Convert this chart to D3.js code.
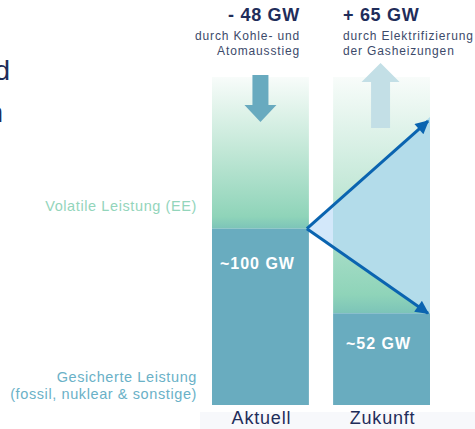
<!DOCTYPE html>
<html><head><meta charset="utf-8">
<script src="https://cdn.jsdelivr.net/npm/d3@7"></script>
<style>
html,body{margin:0;padding:0;background:#fff;overflow:hidden}
svg{display:block;font-family:"Liberation Sans",Arial,sans-serif}
</style></head>
<body>
<script>
// ---- data ----
const categories = ["Aktuell", "Zukunft"];
const gesichert = [100, 52];          // GW secured capacity
const barTotal = 186;                 // visual top of bars (GW scale)
const valueLabels = ["~100 GW", "~52 GW"];
const arrowTargets = [161, 52];       // up (demand) and down (secured) targets in Zukunft
const headlines = ["- 48 GW", "+ 65 GW"];
const subLines = [["durch Kohle- und", "Atomausstieg"], ["durch Elektrifizierung", "der Gasheizungen"]];
const sideLabels = ["Volatile Leistung (EE)", "Gesicherte Leistung", "(fossil, nuklear & sonstige)"];

const W = 475, H = 429;
const svg = d3.select("body").append("svg").attr("width", W).attr("height", H);
const defs = svg.append("defs");

const x = d3.scaleBand().domain(categories).range([212, 430]).paddingInner(0.2).paddingOuter(0);
const y = d3.scaleLinear().domain([0, barTotal]).range([405, 77]);

const navy = "#1f2d5a", teal = "#69acbf", blueLine = "#0a64b0";

// bottom faint band
svg.append("rect").attr("x", 200).attr("y", 412).attr("width", 275).attr("height", 17).attr("fill", "#f7f8fb");

// bars
categories.forEach((c, i) => {
  const gid = "grad" + i;
  const gg = defs.append("linearGradient").attr("id", gid).attr("gradientUnits", "userSpaceOnUse")
    .attr("x1", 0).attr("y1", y(barTotal)).attr("x2", 0).attr("y2", y(gesichert[i]));
  gg.append("stop").attr("offset", "0%").attr("stop-color", "#f8fcfa");
  gg.append("stop").attr("offset", "45%").attr("stop-color", "#c6e9d9");
  gg.append("stop").attr("offset", "92%").attr("stop-color", "#8fd4b9");
  gg.append("stop").attr("offset", "100%").attr("stop-color", "#7cc4b8");
  svg.append("rect").attr("x", x(c)).attr("y", y(barTotal)).attr("width", x.bandwidth())
    .attr("height", y(gesichert[i]) - y(barTotal)).attr("fill", `url(#${gid})`);
  svg.append("rect").attr("x", x(c)).attr("y", y(gesichert[i])).attr("width", x.bandwidth())
    .attr("height", y(0) - y(gesichert[i])).attr("fill", teal);
});

// triangle fill
const vx = x("Aktuell") + x.bandwidth() - 2, vy = y(gesichert[0]);
const tx = x("Zukunft") + x.bandwidth();
const tri = [[vx, vy], [tx, y(arrowTargets[0]) - 4], [tx, y(arrowTargets[1])]];
defs.append("clipPath").attr("id", "clipZ").append("rect")
  .attr("x", x("Zukunft")).attr("y", 0).attr("width", x.bandwidth()).attr("height", H);
svg.append("path").attr("d", d3.line()(tri) + "Z").attr("fill", "#d3e8fa");
svg.append("path").attr("d", d3.line()(tri) + "Z").attr("fill", "#b3dcea").attr("clip-path", "url(#clipZ)");

// arrows
defs.append("marker").attr("id", "ah").attr("viewBox", "0 0 10 10").attr("refX", 9).attr("refY", 5)
  .attr("markerWidth", 5).attr("markerHeight", 4.5).attr("orient", "auto").attr("markerUnits", "strokeWidth")
  .append("path").attr("d", "M0,0 L10,5 L0,10 Z").attr("fill", blueLine);
[[tx - 2, y(arrowTargets[0])], [tx - 2, y(arrowTargets[1])]].forEach(p => {
  svg.append("line").attr("x1", vx).attr("y1", vy).attr("x2", p[0]).attr("y2", p[1])
    .attr("stroke", blueLine).attr("stroke-width", 3).attr("marker-end", "url(#ah)");
});

// block arrows
const cxA = x("Aktuell") + x.bandwidth() / 2;
svg.append("path").attr("fill", "#68aabf")
  .attr("d", `M${cxA-8},75 L${cxA+8},75 L${cxA+8},105 L${cxA+16},105 L${cxA},122 L${cxA-16},105 L${cxA-8},105 Z`);
const cxZ = x("Zukunft") + x.bandwidth() / 2 - 1;
svg.append("path").attr("fill", "#c3dfe6")
  .attr("d", `M${cxZ-9.5},128 L${cxZ+9.5},128 L${cxZ+9.5},82 L${cxZ+19},82 L${cxZ},63 L${cxZ-19},82 L${cxZ-9.5},82 Z`);

// value labels
categories.forEach((c, i) => {
  svg.append("text").attr("x", x(c) + x.bandwidth() / 2 - 3).attr("y", y(gesichert[i]) + (i === 0 ? 40 : 36))
    .attr("text-anchor", "middle").attr("fill", "#fff").attr("font-weight", "bold").attr("font-size", 16)
    .attr("letter-spacing", 1).text(valueLabels[i]);
  svg.append("text").attr("x", x(c) + x.bandwidth() / 2 + 1).attr("y", 424)
    .attr("text-anchor", "middle").attr("fill", navy).attr("font-size", 18).attr("letter-spacing", 0.8).text(c);
});

// headlines
svg.append("text").attr("x", 300).attr("y", 21).attr("text-anchor", "end").attr("fill", navy)
  .attr("font-weight", "bold").attr("font-size", 18).attr("letter-spacing", 0.7).text(headlines[0]);
svg.append("text").attr("x", 343).attr("y", 21).attr("text-anchor", "start").attr("fill", navy)
  .attr("font-weight", "bold").attr("font-size", 18).attr("letter-spacing", 0.7).text(headlines[1]);
subLines[0].forEach((t, j) => svg.append("text").attr("x", 300).attr("y", 40 + j * 15).attr("text-anchor", "end")
  .attr("fill", "#3c4a6a").attr("font-size", 12).attr("letter-spacing", 0.85).text(t));
subLines[1].forEach((t, j) => svg.append("text").attr("x", 343).attr("y", 40 + j * 15).attr("text-anchor", "start")
  .attr("fill", "#3c4a6a").attr("font-size", 12).attr("letter-spacing", 0.85).text(t));

// side labels
svg.append("text").attr("x", 197).attr("y", 211).attr("text-anchor", "end").attr("fill", "#93d5bb")
  .attr("font-size", 14.5).attr("letter-spacing", 0.6).text(sideLabels[0]);
svg.append("text").attr("x", 197).attr("y", 382).attr("text-anchor", "end").attr("fill", "#6ab1c7")
  .attr("font-size", 14.5).attr("letter-spacing", 0.6).text(sideLabels[1]);
svg.append("text").attr("x", 197).attr("y", 399).attr("text-anchor", "end").attr("fill", "#6ab1c7")
  .attr("font-size", 14.5).attr("letter-spacing", 0.6).text(sideLabels[2]);

// cut-off text at left edge (as in the reference)
svg.append("text").attr("x", 10).attr("y", 80).attr("text-anchor", "end").attr("fill", navy)
  .attr("font-size", 28).text("d");
svg.append("text").attr("x", 3).attr("y", 122).attr("text-anchor", "end").attr("fill", navy)
  .attr("font-size", 28).text("n");
</script>
</body></html>
